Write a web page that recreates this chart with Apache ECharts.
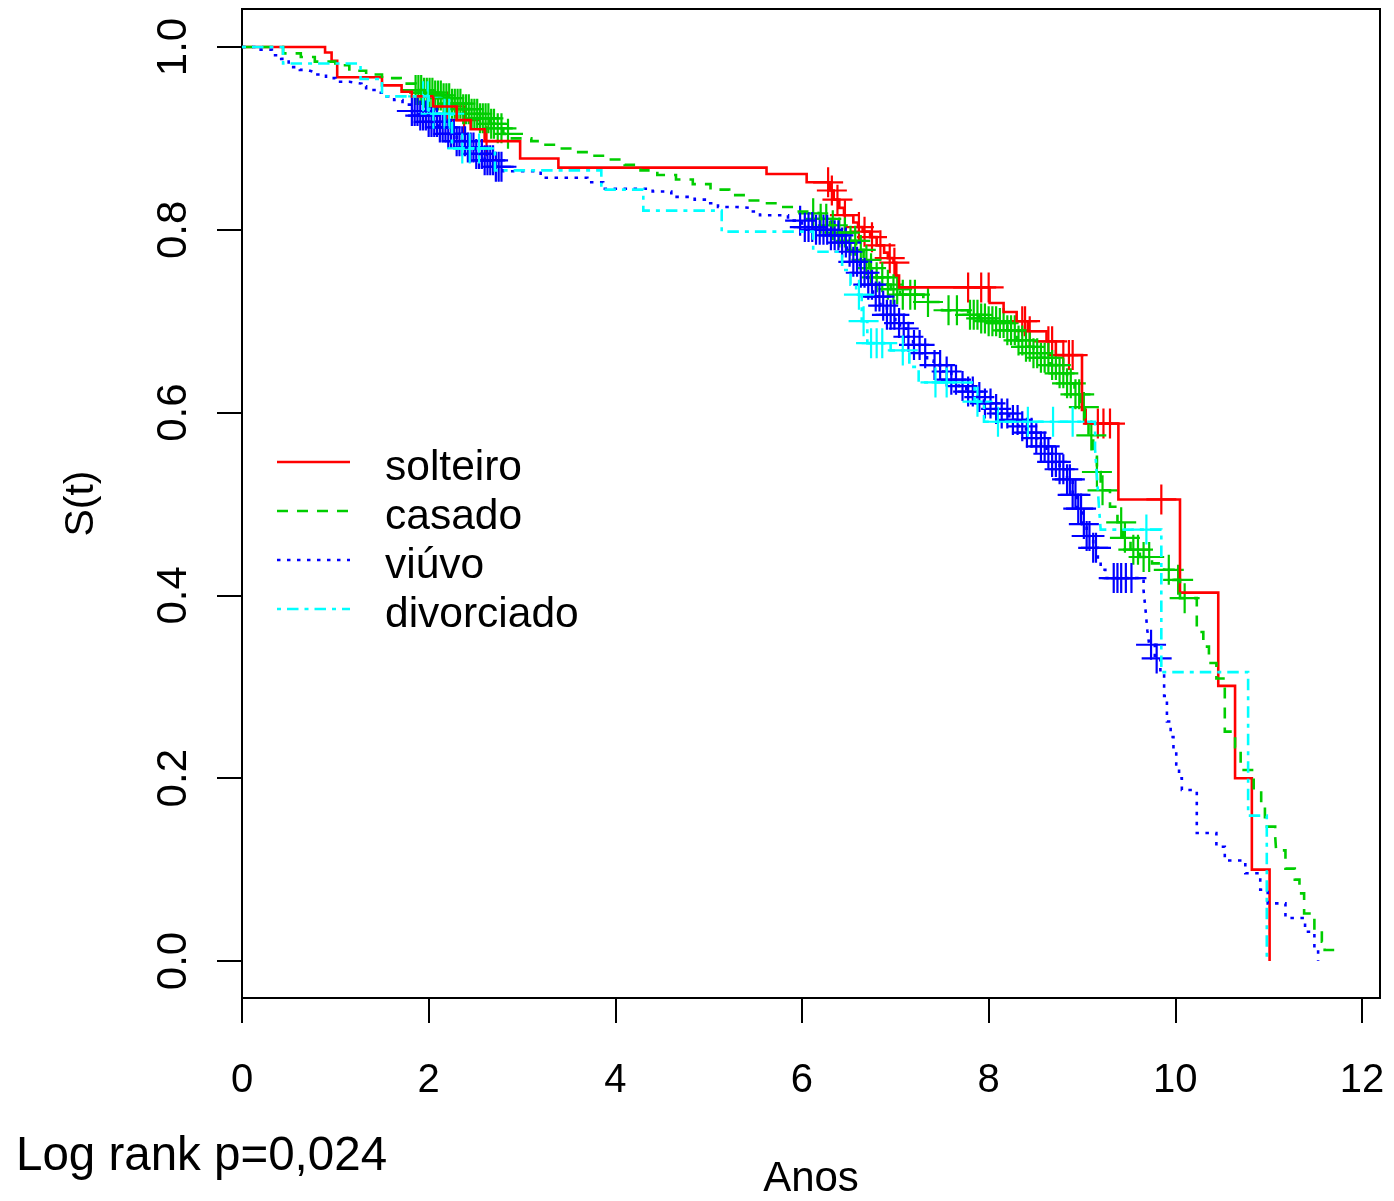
<!DOCTYPE html>
<html>
<head>
<meta charset="utf-8">
<script src="https://cdn.jsdelivr.net/npm/echarts@6/dist/echarts.min.js"></script>
<style>
  html, body { margin: 0; padding: 0; background: #ffffff; }
  #chart { width: 1394px; height: 1201px; }
</style>
</head>
<body>
<div id="chart"></div>
<script>
// Kaplan-Meier survival curves by marital status (estado civil)

const groupNames = ['solteiro', 'casado', 'viúvo', 'divorciado'];
const xTicks = [0, 2, 4, 6, 8, 10, 12];
const yTicks = [0, 0.2, 0.4, 0.6, 0.8, 1.0];
const logRankText = 'Log rank p=0,024';

// solteiro: event times (anos), survival right after each event, last follow-up, censored times
const solteiroT = [0, 0.89, 0.96, 1.02, 1.50, 1.71, 1.82, 2.05, 2.30, 2.45, 2.60, 2.98, 3.39,
  5.62, 6.05, 6.30, 6.34, 6.40, 6.45, 6.55, 6.60, 6.65, 6.73, 6.80, 6.88, 6.92, 6.98, 7.01, 7.04,
  8.01, 8.16, 8.30, 8.42, 8.62, 8.72, 9.00, 9.04, 9.39, 10.05, 10.46, 10.64, 10.82, 11.01];
const solteiroS = [1, 0.994, 0.985, 0.967, 0.958, 0.951, 0.946, 0.935, 0.920, 0.910, 0.897, 0.878, 0.868,
  0.861, 0.852, 0.843, 0.833, 0.824, 0.816, 0.808, 0.803, 0.798, 0.792, 0.783, 0.775, 0.769, 0.764, 0.750, 0.737,
  0.720, 0.710, 0.700, 0.689, 0.678, 0.663, 0.603, 0.588, 0.505, 0.403, 0.301, 0.200, 0.100, 0];
const solteiroEnd = 11.01;
const solteiroCens = [2.20, 2.38, 2.62, 6.28, 6.32, 6.38, 6.46, 6.61, 6.67, 6.75, 6.84, 6.94, 6.99,
  7.78, 7.92, 8.00, 8.36, 8.39, 8.44, 8.64, 8.68, 8.80, 8.86, 8.90, 9.17, 9.23, 9.30, 9.85];

// casado
const casadoT = [0, 0.44, 0.63, 0.78, 1.00, 1.15, 1.33, 1.50, 1.70, 1.86, 1.95, 2.05, 2.15, 2.25, 2.35,
  2.45, 2.55, 2.65, 2.73, 2.80, 2.87, 3.10, 3.22, 3.38, 3.55, 3.72, 3.92, 4.10, 4.27, 4.45, 4.65, 4.83,
  5.02, 5.22, 5.40, 5.60, 5.80, 5.95, 6.10, 6.20, 6.30, 6.40, 6.50, 6.58, 6.66, 6.72, 6.80, 6.88, 6.95,
  7.05, 7.30, 7.50, 7.78, 7.90, 8.00, 8.10, 8.20, 8.30, 8.40, 8.48, 8.56, 8.66, 8.75, 8.84, 8.92, 8.98,
  9.03, 9.07, 9.12, 9.16, 9.20, 9.30, 9.38, 9.44, 9.52, 9.62, 9.75, 9.88, 9.98, 10.05, 10.23, 10.30,
  10.36, 10.44, 10.53, 10.64, 10.70, 10.84, 10.92, 10.96, 11.07, 11.08, 11.18, 11.28, 11.33, 11.38,
  11.49, 11.57, 11.60];
const casadoS = [1, 0.993, 0.989, 0.984, 0.980, 0.974, 0.970, 0.966, 0.960, 0.953, 0.950, 0.947, 0.944, 0.938, 0.932,
  0.927, 0.922, 0.916, 0.911, 0.905, 0.900, 0.897, 0.893, 0.889, 0.885, 0.881, 0.877, 0.871, 0.865, 0.860, 0.855, 0.850,
  0.844, 0.838, 0.832, 0.829, 0.825, 0.820, 0.818, 0.812, 0.805, 0.797, 0.788, 0.778, 0.767, 0.758, 0.748, 0.740, 0.735,
  0.729, 0.721, 0.712, 0.707, 0.703, 0.700, 0.698, 0.690, 0.679, 0.672, 0.665, 0.660, 0.652, 0.643, 0.632, 0.620, 0.606,
  0.590, 0.575, 0.557, 0.535, 0.515, 0.497, 0.480, 0.463, 0.450, 0.442, 0.435, 0.428, 0.417, 0.397, 0.360, 0.344,
  0.326, 0.309, 0.251, 0.234, 0.209, 0.187, 0.169, 0.147, 0.136, 0.121, 0.101, 0.089, 0.074, 0.052,
  0.034, 0.021, 0.012];
const casadoEnd = 11.73;
const casadoCens = [1.86, 1.89, 1.92, 1.95, 1.98, 2.01, 2.04, 2.07, 2.10, 2.13, 2.16, 2.19, 2.22, 2.25,
  2.28, 2.31, 2.34, 2.37, 2.40, 2.43, 2.46, 2.49, 2.52, 2.55, 2.58, 2.61, 2.64, 2.67, 2.70, 2.74, 2.78, 2.85,
  6.12, 6.20, 6.26, 6.33, 6.40, 6.46, 6.52, 6.57, 6.63, 6.69, 6.74, 6.80, 6.86, 6.92, 6.98, 7.02, 7.08,
  7.16, 7.21, 7.35, 7.57, 7.66, 7.80, 7.84, 7.88, 7.92, 7.96, 8.00, 8.04, 8.08, 8.12, 8.16, 8.20, 8.24,
  8.28, 8.32, 8.36, 8.40, 8.44, 8.48, 8.52, 8.56, 8.60, 8.64, 8.68, 8.72, 8.76, 8.80, 8.84, 8.88, 8.93,
  8.97, 9.02, 9.10, 9.16, 9.22, 9.42, 9.46, 9.55, 9.60, 9.66, 9.72, 9.93, 10.03, 10.10];

// viúvo
const viuvoT = [0, 0.20, 0.32, 0.42, 0.45, 0.50, 0.62, 0.70, 0.76, 0.90, 1.00, 1.15, 1.28, 1.33, 1.45,
  1.55, 1.63, 1.72, 1.82, 1.90, 2.00, 2.10, 2.20, 2.30, 2.40, 2.50, 2.60, 2.70, 2.80, 3.20, 3.70, 3.87,
  4.40, 4.60, 4.85, 5.00, 5.10, 5.30, 5.45, 5.55, 5.85, 6.00, 6.12, 6.30, 6.40, 6.48, 6.55, 6.62, 6.70,
  6.76, 6.84, 6.91, 7.00, 7.05, 7.12, 7.19, 7.27, 7.34, 7.41, 7.50, 7.60, 7.68, 7.76, 7.85, 7.95, 8.04,
  8.12, 8.22, 8.32, 8.40, 8.48, 8.56, 8.62, 8.68, 8.76, 8.84, 8.90, 8.95, 9.00, 9.05, 9.12, 9.17, 9.20,
  9.25, 9.66, 9.68, 9.70, 9.72, 9.78, 9.84, 9.88, 9.91, 9.95, 9.98, 10.01, 10.04, 10.07, 10.23, 10.44,
  10.53, 10.75, 10.91, 10.99, 11.18, 11.39, 11.49, 11.53];
const viuvoS = [1, 0.997, 0.991, 0.987, 0.984, 0.978, 0.975, 0.973, 0.970, 0.966, 0.962, 0.960, 0.957, 0.953, 0.950,
  0.946, 0.942, 0.937, 0.930, 0.925, 0.918, 0.912, 0.905, 0.897, 0.890, 0.883, 0.876, 0.869, 0.864, 0.857, 0.852, 0.845,
  0.842, 0.836, 0.833, 0.829, 0.825, 0.824, 0.820, 0.816, 0.810, 0.803, 0.800, 0.794, 0.786, 0.776, 0.765, 0.753, 0.740,
  0.727, 0.717, 0.707, 0.698, 0.692, 0.683, 0.674, 0.665, 0.657, 0.652, 0.645, 0.636, 0.629, 0.623, 0.617, 0.610, 0.604,
  0.599, 0.592, 0.585, 0.578, 0.572, 0.563, 0.555, 0.546, 0.538, 0.527, 0.510, 0.495, 0.478, 0.465, 0.452, 0.440, 0.428,
  0.419, 0.405, 0.385, 0.362, 0.346, 0.331, 0.316, 0.290, 0.262, 0.245, 0.230, 0.215, 0.200, 0.187, 0.140, 0.125,
  0.110, 0.096, 0.078, 0.063, 0.047, 0.032, 0.012, 0];
const viuvoEnd = 11.53;
const viuvoCens = [1.82, 1.85, 1.88, 1.91, 1.94, 1.97, 2.00, 2.03, 2.06, 2.09, 2.12, 2.15, 2.18, 2.21,
  2.24, 2.27, 2.30, 2.33, 2.36, 2.39, 2.42, 2.45, 2.48, 2.51, 2.54, 2.57, 2.60, 2.63, 2.66, 2.69, 2.72,
  2.75, 2.78, 5.98, 6.03, 6.07, 6.11, 6.15, 6.19, 6.23, 6.27, 6.31, 6.35, 6.39, 6.43, 6.47, 6.51, 6.55,
  6.59, 6.63, 6.67, 6.71, 6.75, 6.79, 6.83, 6.87, 6.91, 6.95, 6.99, 7.04, 7.09, 7.14, 7.20, 7.26, 7.32,
  7.42, 7.48, 7.55, 7.60, 7.65, 7.72, 7.78, 7.83, 7.90, 7.96, 8.02, 8.08, 8.14, 8.20, 8.26, 8.31, 8.36,
  8.41, 8.46, 8.51, 8.56, 8.60, 8.64, 8.68, 8.72, 8.76, 8.80, 8.84, 8.87, 8.90, 8.93, 8.96, 8.99, 9.02,
  9.05, 9.08, 9.12, 9.15, 9.34, 9.38, 9.42, 9.47, 9.53, 9.74, 9.80];

// divorciado
const divorciadoT = [0, 0.44, 1.27, 1.50, 2.00, 2.25, 2.71, 3.85, 4.30, 5.14, 6.12, 6.43, 6.52, 6.58,
  6.64, 6.70, 6.95, 7.15, 7.25, 7.85, 7.95, 9.14, 9.16, 9.18, 9.20, 9.85, 10.78, 10.98];
const divorciadoS = [1, 0.982, 0.965, 0.946, 0.927, 0.889, 0.865, 0.844, 0.821, 0.798, 0.776, 0.756, 0.740, 0.729,
  0.700, 0.676, 0.668, 0.650, 0.633, 0.612, 0.590, 0.560, 0.530, 0.500, 0.472, 0.316, 0.159, 0];
const divorciadoEnd = 10.98;
const divorciadoCens = [1.94, 1.99, 2.05, 2.17, 2.22, 2.36, 2.44, 2.54, 6.61, 6.66, 6.74, 6.80, 6.86,
  7.08, 7.43, 7.55, 7.88, 8.10, 8.42, 8.69, 8.90, 9.69];

const FONT = "'Liberation Sans', Arial, Helvetica, sans-serif";

const groups = [
  { name: groupNames[0], T: solteiroT, S: solteiroS, end: solteiroEnd, cens: solteiroCens, color: '#FF0000', dash: 'solid' },
  { name: groupNames[1], T: casadoT, S: casadoS, end: casadoEnd, cens: casadoCens, color: '#00CD00', dash: [11, 9] },
  { name: groupNames[2], T: viuvoT, S: viuvoS, end: viuvoEnd, cens: viuvoCens, color: '#0000FF', dash: [3.5, 6.5] },
  { name: groupNames[3], T: divorciadoT, S: divorciadoS, end: divorciadoEnd, cens: divorciadoCens, color: '#00FFFF', dash: [4, 6, 11.5, 6] }
];

// survival value of a step curve at time t
function survAt(T, S, t) {
  let v = S[0];
  for (let i = 0; i < T.length; i++) {
    if (T[i] <= t) v = S[i]; else break;
  }
  return v;
}

function curveData(g) {
  const d = g.T.map((t, i) => [t, g.S[i]]);
  if (g.end > g.T[g.T.length - 1]) d.push([g.end, g.S[g.S.length - 1]]);
  return d;
}

// "+" censoring mark
const PLUS = 'path://M-1.1,-15L1.1,-15L1.1,15L-1.1,15ZM-15,-1.1L15,-1.1L15,1.1L-15,1.1Z';

const series = [];
groups.forEach(g => {
  series.push({
    type: 'line',
    name: g.name,
    data: curveData(g),
    step: 'end',
    symbol: 'none',
    silent: true,
    animation: false,
    lineStyle: { color: g.color, width: 2.6, type: g.dash, cap: 'butt', join: 'miter' }
  });
  series.push({
    type: 'scatter',
    name: g.name + ' (censura)',
    data: g.cens.map(t => [t, survAt(g.T, g.S, t)]),
    symbol: PLUS,
    symbolSize: 30,
    silent: true,
    animation: false,
    itemStyle: { color: g.color, opacity: 1 }
  });
});

const legendGraphics = [];
groups.forEach((g, i) => {
  const y = 462 + 49 * i;
  legendGraphics.push({
    type: 'line',
    shape: { x1: 277, y1: y, x2: 350, y2: y },
    style: { stroke: g.color, lineWidth: 2.6, lineDash: g.dash === 'solid' ? null : g.dash, lineCap: 'butt' },
    silent: true
  });
  legendGraphics.push({
    type: 'text',
    x: 385,
    y: 468.5 + 49 * i,
    style: { text: g.name, fontSize: 42.5, fontFamily: FONT, fill: '#000', align: 'left', verticalAlign: 'middle' },
    silent: true
  });
});
legendGraphics.push({
  type: 'text',
  x: 16,
  y: 1157,
  style: { text: logRankText, fontSize: 47.5, fontFamily: FONT, fill: '#000', align: 'left', verticalAlign: 'middle' },
  silent: true
});

const chart = echarts.init(document.getElementById('chart'), null, { renderer: 'canvas' });
chart.setOption({
  animation: false,
  backgroundColor: '#ffffff',
  grid: {
    left: 242, top: 9, width: 1138, height: 989,
    show: true, borderColor: '#000', borderWidth: 2, backgroundColor: 'transparent',
    containLabel: false, outerBoundsMode: 'none'
  },
  xAxis: {
    type: 'value', min: 0, max: 12.193,
    name: 'Anos', nameLocation: 'middle', nameGap: 160,
    nameTextStyle: { fontSize: 42, fontFamily: FONT, color: '#000' },
    axisLine: { show: false, onZero: false },
    axisTick: { show: true, length: 25, inside: false, customValues: xTicks, lineStyle: { color: '#000', width: 2 } },
    axisLabel: { show: true, margin: 63, fontSize: 40, fontFamily: FONT, color: '#000', customValues: xTicks, formatter: v => String(v) },
    splitLine: { show: false }
  },
  yAxis: {
    type: 'value', min: -0.0405, max: 1.0416,
    name: 'S(t)', nameLocation: 'middle', nameGap: 140, nameRotate: 90,
    nameTextStyle: { fontSize: 41, fontFamily: FONT, color: '#000' },
    axisLine: { show: false, onZero: false },
    axisTick: { show: true, length: 25, inside: false, customValues: yTicks, lineStyle: { color: '#000', width: 2 } },
    axisLabel: { show: true, rotate: 90, margin: 47, fontSize: 42, fontFamily: FONT, color: '#000', customValues: yTicks, formatter: v => v.toFixed(1) },
    splitLine: { show: false }
  },
  series: series,
  graphic: legendGraphics
});
</script>
</body>
</html>
